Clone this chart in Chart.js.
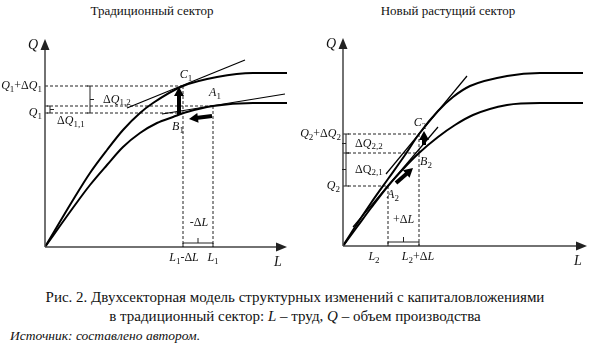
<!DOCTYPE html>
<html>
<head>
<meta charset="utf-8">
<script src="https://cdn.jsdelivr.net/npm/chart.js@4"></script>
<style>
  body { margin: 0; background: #fff; width: 590px; height: 346px; position: relative; overflow: hidden; font-family: "Liberation Serif", "Times New Roman", serif; color: #111; }
  canvas { position: absolute; top: 0; }
  .title { position: absolute; top: 3px; font-size: 13px; line-height: 16px; transform: translateX(-50%); white-space: nowrap; }
  .cap { position: absolute; left: 0; width: 590px; text-align: center; font-size: 15px; line-height: 18px; white-space: nowrap; }
  .src { position: absolute; left: 10px; top: 328px; font-size: 13.5px; line-height: 16px; font-style: italic; white-space: nowrap; }
</style>
</head>
<body>
<div class="title" style="left:152px">Традиционный сектор</div>
<div class="title" style="left:448px">Новый растущий сектор</div>
<canvas id="left-chart" width="295" height="280" style="left:0"></canvas>
<canvas id="right-chart" width="295" height="280" style="left:295px"></canvas>
<div class="cap" style="top:288px">Рис. 2. Двухсекторная модель структурных изменений с капиталовложениями</div>
<div class="cap" style="top:307px">в традиционный сектор: <i>L</i> – труд, <i>Q</i> – объем производства</div>
<div class="src">Источник: составлено автором.</div>
<script>
// traditional sector (L, Q in diagram units)
const upper1 = [[0,0],[28,47],[45,74],[62,97],[78,117],[95,134],[108,144],[138,161],[172,170],[208,174],[242,174]];
const lower1 = [[0,0],[30,42],[45,62],[62,82],[78,100],[95,114],[112,124],[128,130],[142,135],[168,141],[208,144],[242,144]];
const tangentC1 = [[82,139],[200,187]];
const tangentA1 = [[117,133],[240,153]];
const A1 = [168,141], B1 = [138,134], C1 = [138,161];
const moveB1 = [[167,131],[144,128]];
const moveC1 = [[134,132],[134,160]];

// new growing sector
const upper2 = [[0,0],[12,19],[28,43],[45,67],[62,91],[76,112],[95,135],[110,149],[127,160],[164,170],[197,173],[240,173]];
const lower2 = [[0,0],[14,19],[28,38],[45,60],[62,79],[76,93],[95,109],[112,121],[130,131],[164,141],[197,143],[240,143]];
const tangentC2 = [[43,72],[124,170]];
const parallelB2 = [[10,19],[95,119]];
const A2 = [45,60], B2 = [76,93], C2 = [76,112];
const moveB2 = [[53,63],[70,78]];
const moveC2 = [[81,101],[81,115]];

const FONT = '"Liberation Serif", "Times New Roman", serif';

function ds(pts, opts) {
  return Object.assign({
    data: pts.map(p => ({ x: p[0], y: p[1] })),
    showLine: true, pointRadius: 0, fill: false,
    borderColor: '#000', borderWidth: 1
  }, opts);
}
const curve = pts => ds(pts, { borderWidth: 2, cubicInterpolationMode: 'monotone' });
const dashed = pts => ds(pts, { borderWidth: 1, borderDash: [3, 2], borderColor: '#222' });

// *x* = italic, _x_ = subscript
function rich(ctx, str, x, y, align, size) {
  const parts = str.match(/(\*[^*]+\*|_[^_]+_|[^*_]+)/g);
  const segs = parts.map(s => {
    let it = false, sub = false, t = s;
    if (s[0] === '*') { it = true; t = s.slice(1, -1); }
    else if (s[0] === '_') { sub = true; t = s.slice(1, -1); }
    const fs = sub ? Math.round(size * 0.72) : size;
    const font = (it ? 'italic ' : '') + fs + 'px ' + FONT;
    ctx.font = font;
    return { t, font, sub, w: ctx.measureText(t).width };
  });
  const total = segs.reduce((a, s) => a + s.w, 0);
  let cx = align === 'right' ? x - total : align === 'center' ? x - total / 2 : x;
  ctx.fillStyle = '#111';
  ctx.textBaseline = 'middle';
  ctx.textAlign = 'left';
  segs.forEach(s => {
    ctx.font = s.font;
    ctx.fillText(s.t, cx, s.sub ? y + size * 0.3 : y);
    cx += s.w;
  });
}

function arrowHead(ctx, x1, y1, x2, y2, len, half) {
  const a = Math.atan2(y2 - y1, x2 - x1);
  ctx.beginPath();
  ctx.moveTo(x2, y2);
  ctx.lineTo(x2 - len * Math.cos(a) + half * Math.sin(a), y2 - len * Math.sin(a) - half * Math.cos(a));
  ctx.lineTo(x2 - len * Math.cos(a) - half * Math.sin(a), y2 - len * Math.sin(a) + half * Math.cos(a));
  ctx.closePath();
  ctx.fill();
}

function thickArrow(ctx, x1, y1, x2, y2) {
  const a = Math.atan2(y2 - y1, x2 - x1);
  ctx.strokeStyle = '#000'; ctx.fillStyle = '#000';
  ctx.lineWidth = 4;
  ctx.beginPath();
  ctx.moveTo(x1, y1);
  ctx.lineTo(x2 - 7 * Math.cos(a), y2 - 7 * Math.sin(a));
  ctx.stroke();
  arrowHead(ctx, x1, y1, x2, y2, 9, 5);
}

function brace(ctx, x, y1, y2, dir) {
  const ym = (y1 + y2) / 2;
  ctx.beginPath();
  ctx.moveTo(x - dir * 3, y1); ctx.lineTo(x, y1); ctx.lineTo(x, y2); ctx.lineTo(x - dir * 3, y2);
  ctx.moveTo(x, ym); ctx.lineTo(x + dir * 4, ym);
  ctx.stroke();
}

function bracket(ctx, x1, x2, y0) {
  const xm = (x1 + x2) / 2;
  ctx.beginPath();
  ctx.moveTo(x1, y0); ctx.lineTo(x1, y0 - 4); ctx.lineTo(x2, y0 - 4); ctx.lineTo(x2, y0);
  ctx.moveTo(xm, y0 - 4); ctx.lineTo(xm, y0 - 9);
  ctx.stroke();
}

function axes(ctx, chart) {
  const xs = chart.scales.x, ys = chart.scales.y;
  const ox = xs.getPixelForValue(0), oy = ys.getPixelForValue(0);
  const ex = xs.getPixelForValue(xs.max), ty = ys.getPixelForValue(ys.max);
  ctx.strokeStyle = '#444'; ctx.fillStyle = '#222'; ctx.lineWidth = 1.5;
  ctx.beginPath();
  ctx.moveTo(ox, oy); ctx.lineTo(ex - 8, oy);
  ctx.moveTo(ox, oy); ctx.lineTo(ox, ty + 8);
  ctx.stroke();
  arrowHead(ctx, ox, oy, ex, oy, 11, 4.5);
  arrowHead(ctx, ox, oy, ox, ty, 11, 4.5);
  rich(ctx, '*Q*', ox - 12, ty + 6, 'center', 14);
  rich(ctx, '*L*', ex - 9, oy + 15, 'center', 14);
}

const leftDecor = {
  id: 'leftDecor',
  afterDatasetsDraw(chart) {
    const ctx = chart.ctx, X = v => chart.scales.x.getPixelForValue(v), Y = v => chart.scales.y.getPixelForValue(v);
    ctx.save();
    axes(ctx, chart);
    ctx.strokeStyle = '#222'; ctx.lineWidth = 1;
    brace(ctx, X(45), Y(C1[1]), Y(B1[1]), 1);
    brace(ctx, X(0) + 5, Y(A1[1]), Y(B1[1]), 1);
    bracket(ctx, X(C1[0]), X(A1[0]), Y(0));
    thickArrow(ctx, X(moveC1[0][0]), Y(moveC1[0][1]), X(moveC1[1][0]), Y(moveC1[1][1]));
    thickArrow(ctx, X(moveB1[0][0]), Y(moveB1[0][1]), X(moveB1[1][0]), Y(moveB1[1][1]));
    rich(ctx, '*Q*_1_+Δ*Q*_1_', X(0) - 3, Y(C1[1]), 'right', 12);
    rich(ctx, '*Q*_1_', X(0) - 3, Y(B1[1]), 'right', 12);
    rich(ctx, 'Δ*Q*_1,2_', X(58), Y((C1[1] + B1[1]) / 2), 'left', 12);
    rich(ctx, 'Δ*Q*_1,1_', X(12), Y(B1[1]) + 8, 'left', 12);
    rich(ctx, '*C*_1_', X(C1[0]) + 3, Y(C1[1]) - 11, 'center', 12);
    rich(ctx, '*A*_1_', X(A1[0]) + 2, Y(A1[1]) - 13, 'center', 12);
    rich(ctx, '*B*_1_', X(B1[0]) - 5, Y(B1[1]) + 14, 'center', 12);
    rich(ctx, '-Δ*L*', (X(C1[0]) + X(A1[0])) / 2 + 1, Y(0) - 24, 'center', 12);
    rich(ctx, '*L*_1_-Δ*L*', X(C1[0]) + 1, Y(0) + 11, 'center', 12);
    rich(ctx, '*L*_1_', X(A1[0]), Y(0) + 11, 'center', 12);
    ctx.restore();
  }
};

const rightDecor = {
  id: 'rightDecor',
  afterDatasetsDraw(chart) {
    const ctx = chart.ctx, X = v => chart.scales.x.getPixelForValue(v), Y = v => chart.scales.y.getPixelForValue(v);
    ctx.save();
    axes(ctx, chart);
    ctx.strokeStyle = '#222'; ctx.lineWidth = 1;
    brace(ctx, X(0) + 3, Y(C2[1]), Y(B2[1]), -1);
    brace(ctx, X(0) + 3, Y(B2[1]), Y(A2[1]), -1);
    bracket(ctx, X(A2[0]), X(B2[0]), Y(0));
    thickArrow(ctx, X(moveC2[0][0]), Y(moveC2[0][1]), X(moveC2[1][0]), Y(moveC2[1][1]));
    thickArrow(ctx, X(moveB2[0][0]), Y(moveB2[0][1]), X(moveB2[1][0]), Y(moveB2[1][1]));
    rich(ctx, '*Q*_2_+Δ*Q*_2_', X(0) - 2, Y(C2[1]), 'right', 12);
    rich(ctx, '*Q*_2_', X(0) - 3, Y(A2[1]), 'right', 12);
    rich(ctx, 'Δ*Q*_2,2_', X(12), Y((C2[1] + B2[1]) / 2), 'left', 12);
    rich(ctx, 'ΔQ_2,1_', X(12), Y((B2[1] + A2[1]) / 2), 'left', 12);
    rich(ctx, '*C*_2_', X(C2[0]) + 1, Y(C2[1]) - 11, 'center', 12);
    rich(ctx, '*B*_2_', X(B2[0]) + 7, Y(B2[1]) + 9, 'center', 12);
    rich(ctx, '*A*_2_', X(A2[0]) + 5, Y(A2[1]) + 9, 'center', 12);
    rich(ctx, '+Δ*L*', (X(A2[0]) + X(B2[0])) / 2, Y(0) - 26, 'center', 12);
    rich(ctx, '*L*_2_', X(A2[0]) - 14, Y(0) + 11, 'center', 12);
    rich(ctx, '*L*_2_+Δ*L*', X(B2[0]) - 1, Y(0) + 11, 'center', 12);
    ctx.restore();
  }
};

function baseOptions(padding, xmax) {
  return {
    responsive: false, animation: false, events: [],
    devicePixelRatio: 1,
    layout: { padding },
    plugins: { legend: { display: false }, tooltip: { enabled: false } },
    scales: {
      x: { type: 'linear', min: 0, max: xmax, display: false },
      y: { type: 'linear', min: 0, max: 208, display: false }
    }
  };
}

new Chart(document.getElementById('left-chart'), {
  type: 'scatter',
  data: {
    datasets: [
      curve(upper1), curve(lower1),
      ds(tangentC1, { borderWidth: 1.2 }), ds(tangentA1, { borderWidth: 1.2 }),
      dashed([[0, C1[1]], C1]), dashed([[0, A1[1]], A1]), dashed([[0, B1[1]], B1]),
      dashed([C1, [C1[0], 0]]), dashed([A1, [A1[0], 0]])
    ]
  },
  options: baseOptions({ left: 45, right: 8, top: 39, bottom: 33 }, 242),
  plugins: [leftDecor]
});

new Chart(document.getElementById('right-chart'), {
  type: 'scatter',
  data: {
    datasets: [
      curve(upper2), curve(lower2),
      ds(tangentC2, { borderWidth: 1.2 }), ds(parallelB2, { borderWidth: 1.2 }),
      dashed([[0, C2[1]], C2]), dashed([[0, B2[1]], B2]), dashed([[0, A2[1]], A2]),
      dashed([C2, [C2[0], 0]]), dashed([A2, [A2[0], 0]])
    ]
  },
  options: baseOptions({ left: 48, right: 3, top: 38, bottom: 34 }, 244),
  plugins: [rightDecor]
});
</script>
</body>
</html>
